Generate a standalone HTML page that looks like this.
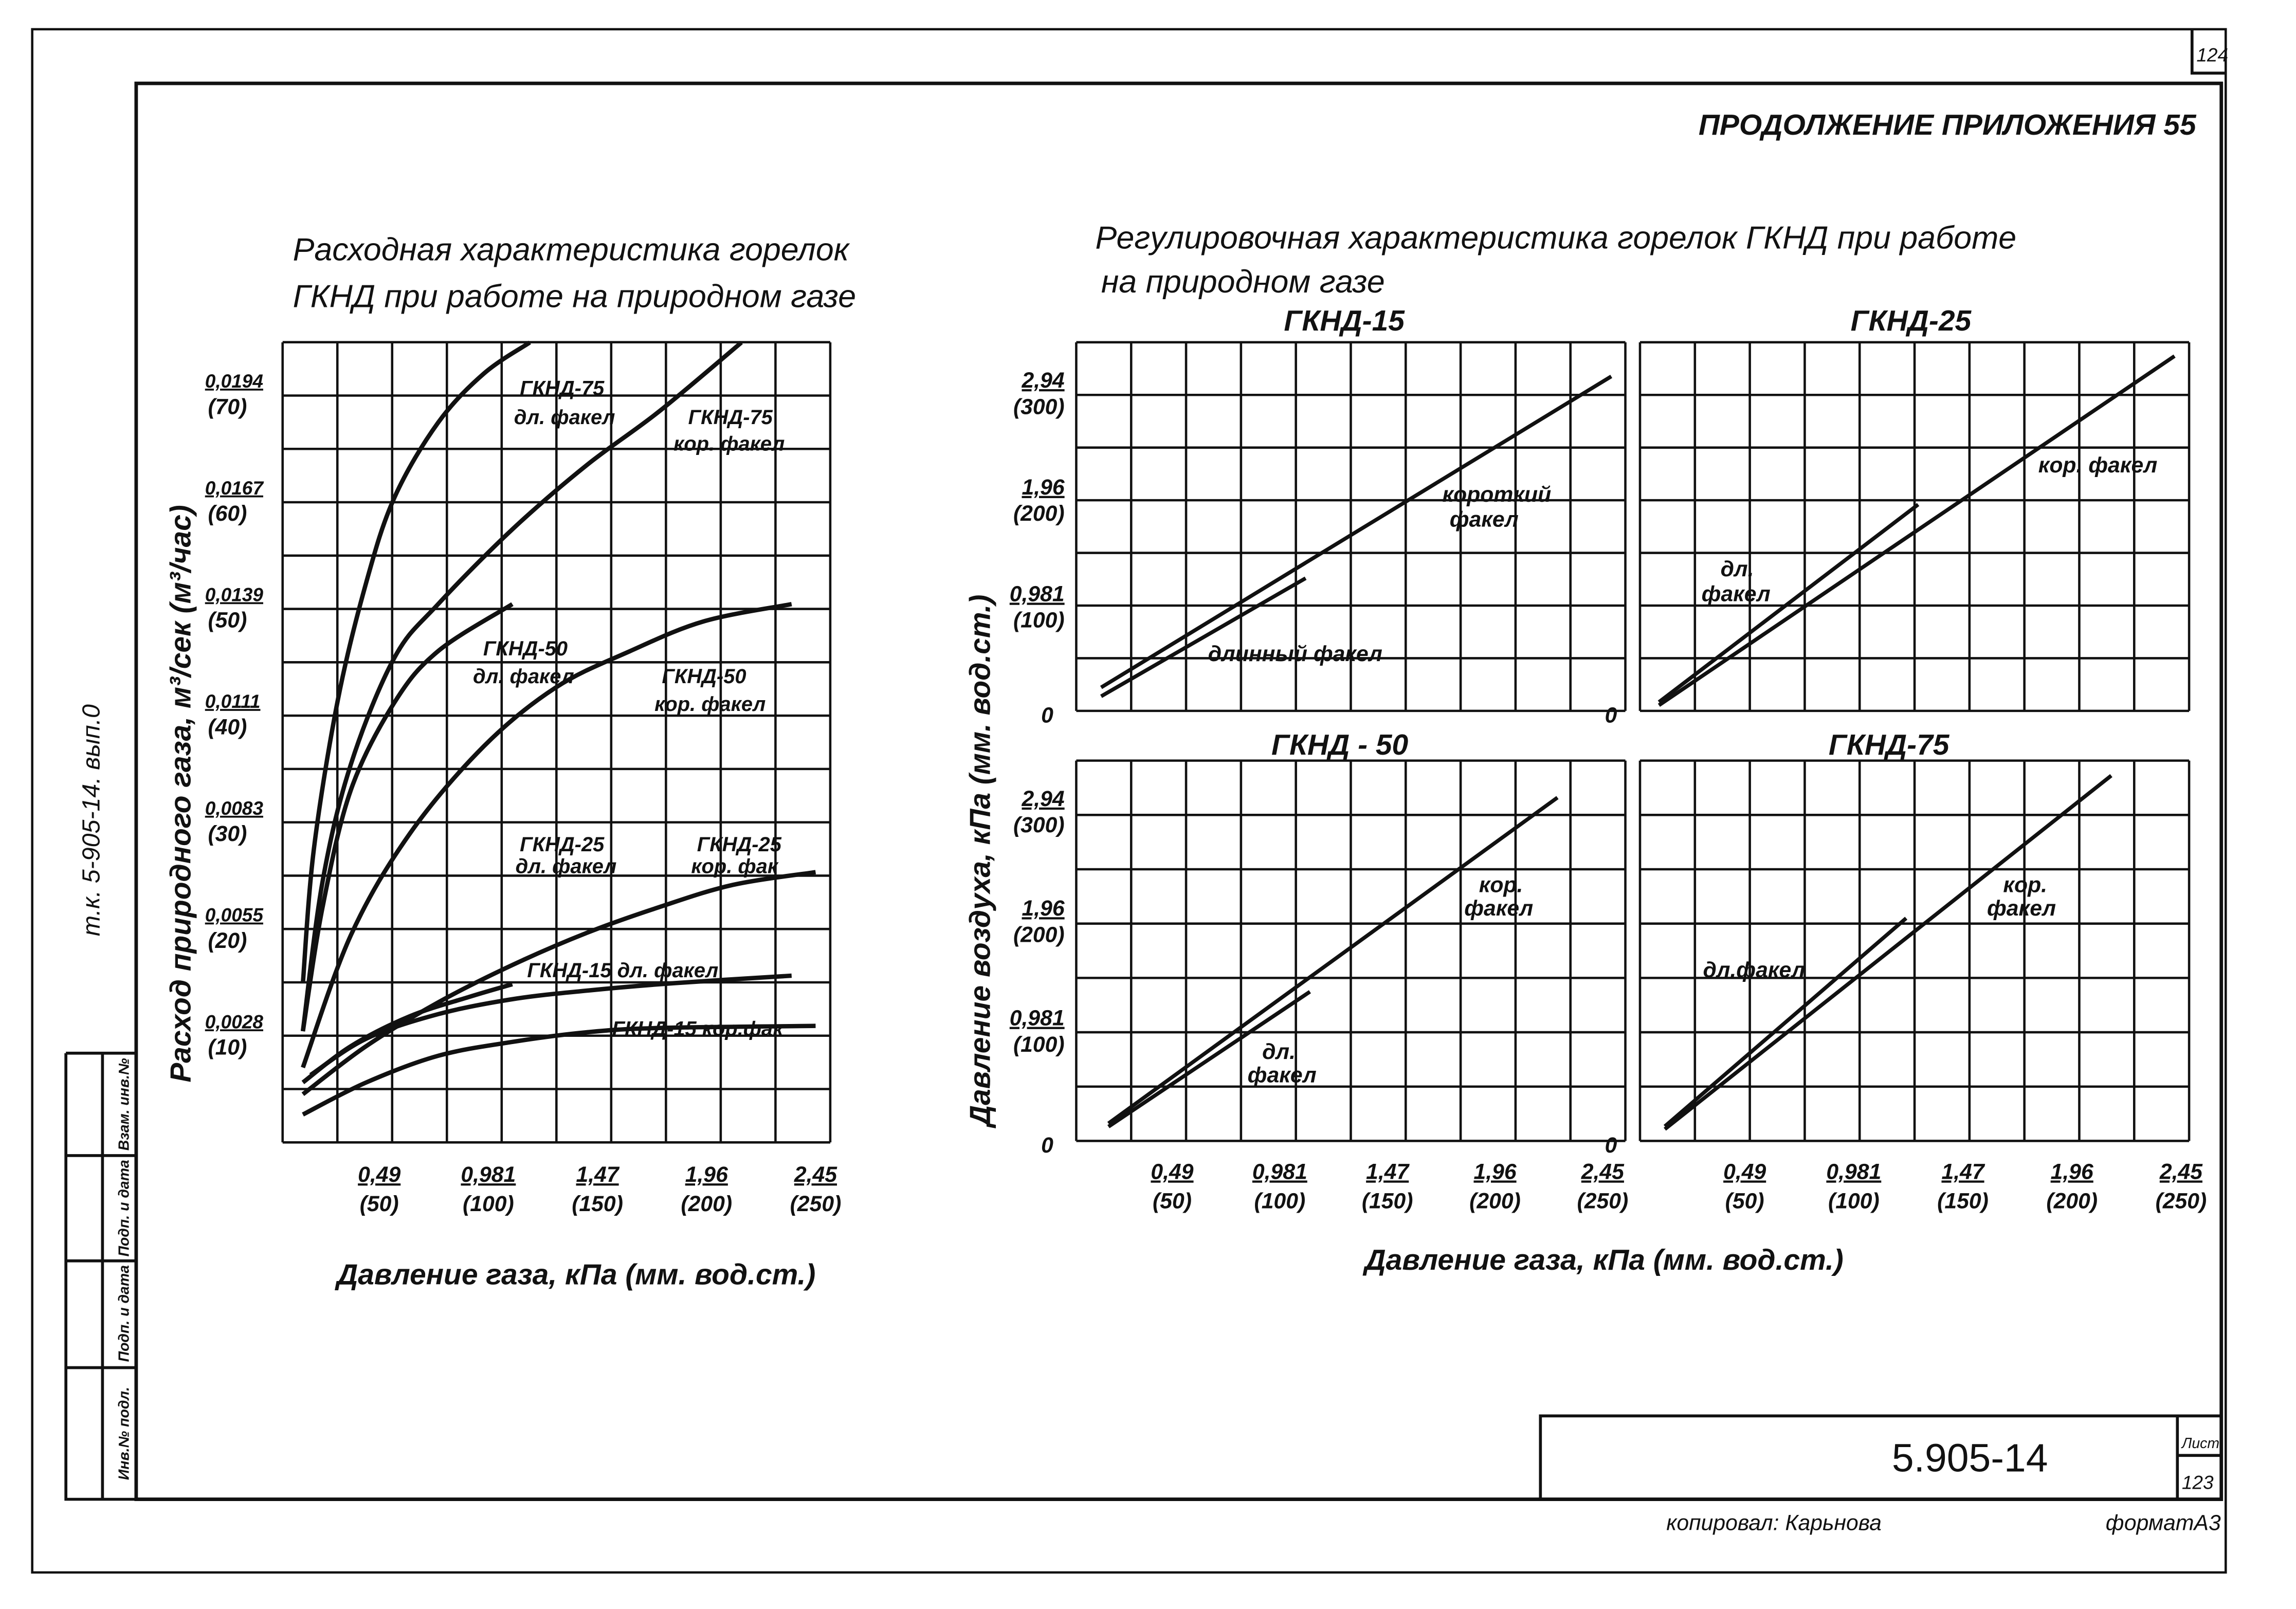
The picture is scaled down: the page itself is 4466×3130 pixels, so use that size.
<!DOCTYPE html>
<html><head><meta charset="utf-8"><style>
html,body{margin:0;padding:0;background:#fff}
svg{display:block}
text{font-family:"Liberation Sans","DejaVu Sans",sans-serif;font-style:italic;fill:#111}
</style></head><body>
<svg id="s" width="4466" height="3130" viewBox="0 0 1568 1100" preserveAspectRatio="none" xmlns="http://www.w3.org/2000/svg">
<rect width="1568" height="1100" fill="#fff"/>
<g fill="none" stroke="#111" stroke-width="2">
<path d="M22 20 H1520 V1075 H22 Z" stroke-width="1.6"/>
<path d="M93 57 H1517 V1025 H93 Z" stroke-width="2.4"/>
<path d="M1497 20 V50 H1520"/>
<path d="M1052 1025 V968 H1517 M1487 968 V1025 M1487 995 H1517"/>
<path d="M45 720 H93 M45 720 V1025 H93 M70 720 V1025 M45 790 H93 M45 862 H93 M45 935 H93"/>
</g>
<text x="1500" y="42" font-size="13">124</text>
<text x="1490" y="990" font-size="10">Лист</text>
<text x="1490" y="1018" font-size="13">123</text>
<text x="1292" y="1006" font-size="27" style="font-style:normal">5.905-14</text>
<text x="1138" y="1046" font-size="15">копировал: Карьнова</text>
<text x="1438" y="1046" font-size="15">форматА3</text>
<text x="1160" y="92" font-size="20" font-weight="bold">ПРОДОЛЖЕНИЕ ПРИЛОЖЕНИЯ 55</text>
<text transform="translate(68,640) rotate(-90)" font-size="17">т.к. 5-905-14. вып.0</text>
<g font-size="10" font-weight="bold" text-anchor="middle">
<text transform="translate(88,755) rotate(-90)">Взам. инв.№</text>
<text transform="translate(88,826) rotate(-90)">Подп. и дата</text>
<text transform="translate(88,898) rotate(-90)">Подп. и дата</text>
<text transform="translate(88,980) rotate(-90)">Инв.№ подл.</text>
</g>
<text x="200" y="178" font-size="22">Расходная характеристика горелок</text>
<text x="200" y="210" font-size="22">ГКНД при работе на природном газе</text>
<text x="748" y="170" font-size="22">Регулировочная характеристика горелок  ГКНД при работе</text>
<text x="752" y="200" font-size="22">на природном  газе</text>
<text transform="translate(130,740) rotate(-90)" font-size="20" font-weight="bold">Расход природного газа, м³/сек (м³/час)</text>
<text transform="translate(676,770) rotate(-90)" font-size="20" font-weight="bold">Давление воздуха, кПа (мм. вод.ст.)</text>
<text x="230" y="878" font-size="20" font-weight="bold">Давление газа, кПа (мм. вод.ст.)</text>
<text x="932" y="868" font-size="20" font-weight="bold">Давление газа, кПа (мм. вод.ст.)</text>
<g id="g"></g>
</svg>
<script>
const leftSeriesNames = ["ГКНД-75 дл.","ГКНД-75 кор.","ГКНД-50 дл.","ГКНД-50 кор.","ГКНД-25 дл.","ГКНД-25 кор.","ГКНД-15 дл.","ГКНД-15 кор."];
const s75dlX = [15,20,31,44,57,77,98,119];
const s75dlY = [14.5,27,41,52,60,67,71.6,74.5];
const s75korX = [15,24,37,57,77,111,145,178,216];
const s75korY = [10,24,35,45,50,57,63,68,74.5];
const s50dlX = [15,24,37,57,77,111];
const s50dlY = [10,21.6,32.6,40.8,45.6,50];
const s50korX = [15,37,64,98,131,165,199,239];
const s50korY = [6.6,19,28.5,36.7,42.2,45.6,48.4,50];
const s25dlX = [15,37,64,91,111];
const s25dlY = [5.2,8.6,11.4,13.2,14.4];
const s25korX = [15,44,77,111,145,178,212,250];
const s25korY = [4.1,8.6,12.7,16.2,19.2,21.6,23.7,24.9];
const s15dlX = [18.5,44,77,111,145,185,239];
const s15dlY = [5.9,9.3,11.6,13,13.8,14.5,15.2];
const s15korX = [15,44,77,111,145,178,250];
const s15korY = [2.2,5.2,7.7,9,9.9,10.3,10.5];
const leftXTicks = ["0,49","0,981","1,47","1,96","2,45"];
const leftXTicksMm = [50,100,150,200,250];
const leftYTicks = ["0,0028","0,0055","0,0083","0,0111","0,0139","0,0167","0,0194"];
const leftYTicksH = [10,20,30,40,50,60,70];
const p15korX=[17,254], p15korY=[24.7,316], p15dlX=[17,112], p15dlY=[16.4,127];
const p25korX=[10.7,247], p25korY=[8,335], p25dlX=[10.7,129.5], p25dlY=[11,196];
const p50korX=[20.4,229], p50korY=[16,313], p50dlX=[20.4,114], p50dlY=[13,136];
const p75korX=[13.4,218], p75korY=[10.7,333], p75dlX=[13.4,124], p75dlY=[13.3,203];
const rightYTicks=["0,981","1,96","2,94"];
const rightYTicksSub=["(100)","(200)","(300)"];
const rightYTicksMm=[100,200,300];

const NS="http://www.w3.org/2000/svg";
const G=document.getElementById('g');
function el(t,a,p){const e=document.createElementNS(NS,t);for(const k in a)e.setAttribute(k,a[k]);(p||G).appendChild(e);return e;}
function smooth(pts){
  let d='M'+pts[0][0]+','+pts[0][1];
  for(let i=0;i<pts.length-1;i++){
    const p0=pts[Math.max(0,i-1)],p1=pts[i],p2=pts[i+1],p3=pts[Math.min(pts.length-1,i+2)];
    const c1=[p1[0]+(p2[0]-p0[0])/6,p1[1]+(p2[1]-p0[1])/6];
    const c2=[p2[0]-(p3[0]-p1[0])/6,p2[1]-(p3[1]-p1[1])/6];
    d+=' C'+c1+' '+c2+' '+p2;
  }
  return d;
}

const lx=mm=>184.5+mm*1.49, ly=u=>778-7.3*u;
const lg=el('g',{fill:'none',stroke:'#111','stroke-width':'1.6'});


for(let i=0;i<=10;i++){const x=193+i*37.4;el('line',{x1:x,y1:234,x2:x,y2:781},lg);}
for(let j=0;j<=15;j++){const y=781-j*36.47;el('line',{x1:193,y1:y,x2:567,y2:y},lg);}
const leftX=[s75dlX,s75korX,s50dlX,s50korX,s25dlX,s25korX,s15dlX,s15korX];
const leftY=[s75dlY,s75korY,s50dlY,s50korY,s25dlY,s25korY,s15dlY,s15korY];
leftX.forEach((xs,i)=>{
  const pts=xs.map((v,k)=>[lx(v),ly(leftY[i][k])]);
  const p=el('path',{d:smooth(pts),fill:'none',stroke:'#111','stroke-width':'3','stroke-linejoin':'round'});
  
  
});
leftXTicks.forEach((t,i)=>{
  const x=lx(leftXTicksMm[i]);
  const a=el('text',{x:x,y:808,'font-size':15,'font-weight':'bold','text-anchor':'middle','text-decoration':'underline'});a.textContent=t;
  
  
  const b=el('text',{x:x,y:828,'font-size':15,'font-weight':'bold','text-anchor':'middle'});b.textContent='('+leftXTicksMm[i]+')';
  
  
});
leftYTicks.forEach((t,i)=>{
  const y=ly(leftYTicksH[i]);
  const a=el('text',{x:140,y:y-2,'font-size':13,'font-weight':'bold','text-decoration':'underline'});a.textContent=t;
  
  
  const b=el('text',{x:142,y:y+16,'font-size':15,'font-weight':'bold'});b.textContent='('+leftYTicksH[i]+')';
  
  
});
const leftLabels=[["ГКНД-75",355,270],["дл. факел",351,290],["ГКНД-75",470,290],["кор. факел",460,308],["ГКНД-50",330,448],["дл. факел",323,467],["ГКНД-50",452,467],["кор. факел",447,486],["ГКНД-25",355,582],["дл. факел",352,597],["ГКНД-25",476,582],["кор. фак",472,597],["ГКНД-15 дл. факел",360,668],["ГКНД-15 кор.фак",418,708]];
leftLabels.forEach(l=>{const t=el('text',{x:l[1],y:l[2],'font-size':14,'font-weight':'bold'});t.textContent=l[0];
  
  });

const panels=[
 {n:'gknd-15',t:'ГКНД-15',x0:735,y0:234,y1:486,ox:727,sx:1.47,oy:488,sy:0.73,kx:p15korX,ky:p15korY,dx:p15dlX,dy:p15dlY,tx:918,ty:226},
 {n:'gknd-25',t:'ГКНД-25',x0:1120,y0:234,y1:486,ox:1117,sx:1.49,oy:488,sy:0.73,kx:p25korX,ky:p25korY,dx:p25dlX,dy:p25dlY,tx:1305,ty:226},
 {n:'gknd-50',t:'ГКНД - 50',x0:735,y0:520,y1:780,ox:727,sx:1.47,oy:780,sy:0.75,kx:p50korX,ky:p50korY,dx:p50dlX,dy:p50dlY,tx:915,ty:516},
 {n:'gknd-75',t:'ГКНД-75',x0:1120,y0:520,y1:780,ox:1117,sx:1.49,oy:780,sy:0.75,kx:p75korX,ky:p75korY,dx:p75dlX,dy:p75dlY,tx:1290,ty:516}
];
panels.forEach((P,pi)=>{
  const g=el('g',{fill:'none',stroke:'#111','stroke-width':'1.6'});
  
  
  for(let i=0;i<=10;i++){const x=P.x0+i*37.5;el('line',{x1:x,y1:P.y0,x2:x,y2:P.y1},g);}
  for(let j=0;j<=7;j++){const y=P.y1-j*(P.y1-P.y0)/7;el('line',{x1:P.x0,y1:y,x2:P.x0+375,y2:y},g);}
  const X=v=>P.ox+v*P.sx, Y=v=>P.oy-v*P.sy;
  const k=el('line',{x1:X(P.kx[0]),y1:Y(P.ky[0]),x2:X(P.kx[1]),y2:Y(P.ky[1]),stroke:'#111','stroke-width':'2.6'});
  
  
  const d=el('line',{x1:X(P.dx[0]),y1:Y(P.dy[0]),x2:X(P.dx[1]),y2:Y(P.dy[1]),stroke:'#111','stroke-width':'2.6'});
  
  
  const tt=el('text',{x:P.tx,y:P.ty,'font-size':20,'font-weight':'bold','text-anchor':'middle'});tt.textContent=P.t;
  
  
  const z=el('text',{x:P.x0-24,y:P.y1+8,'font-size':15,'font-weight':'bold'});z.textContent='0';
  
  
  if(pi%2===0){
    rightYTicks.forEach((t,i)=>{const y=Y(rightYTicksMm[i]);
      const a=el('text',{x:P.x0-8,y:y-4,'font-size':15,'font-weight':'bold','text-anchor':'end','text-decoration':'underline'});a.textContent=t;
      
      
      const b=el('text',{x:P.x0-8,y:y+14,'font-size':15,'font-weight':'bold','text-anchor':'end'});b.textContent=rightYTicksSub[i];
      
      });
  }
  if(pi>=2){
    leftXTicks.forEach((t,i)=>{const x=X(leftXTicksMm[i]);
      const a=el('text',{x:x,y:806,'font-size':15,'font-weight':'bold','text-anchor':'middle','text-decoration':'underline'});a.textContent=t;
      
      
      const b=el('text',{x:x,y:826,'font-size':15,'font-weight':'bold','text-anchor':'middle'});b.textContent='('+leftXTicksMm[i]+')';
      
      });
  }
});
const rl=[["короткий",985,343],["факел",990,360],["длинный факел",825,452],["кор. факел",1392,323],["дл.",1175,394],["факел",1162,411],["кор.",1010,610],["факел",1000,626],["дл.",862,724],["факел",852,740],["кор.",1368,610],["факел",1357,626],["дл.факел",1163,668]];
rl.forEach(l=>{const t=el('text',{x:l[1],y:l[2],'font-size':15,'font-weight':'bold'});t.textContent=l[0];
  
  });
</script>
</body></html>
